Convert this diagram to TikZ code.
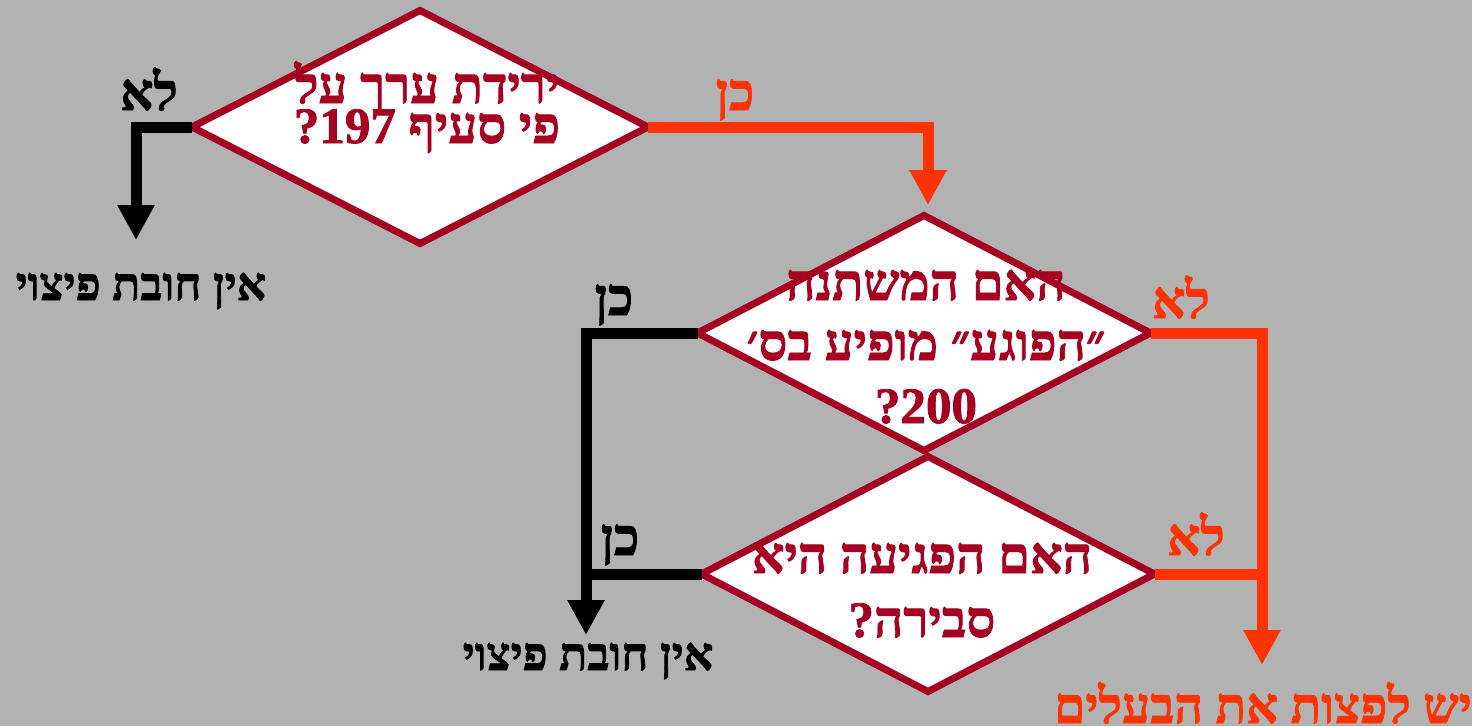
\documentclass[tikz,border=0pt]{standalone}
\usepackage{fontspec}
\usetikzlibrary{shapes.geometric,arrows.meta}
\TeXXeTstate=1
\newfontfamily\heb[Script=Hebrew, BoldFeatures={FakeBold=1.6}]{Liberation Serif}
\definecolor{bg}{HTML}{B2B2B2}
\definecolor{dred}{HTML}{A50021}
\definecolor{orng}{HTML}{FF3300}
\begin{document}
\begin{tikzpicture}[x=1pt,y=-1pt,
  decision/.style={diamond, draw=dred, fill=white, line width=7pt, outer sep=0pt, inner sep=0pt},
  dtext/.style={anchor=base, inner sep=0pt, text=dred, font=\heb\bfseries\fontsize{51}{51}\selectfont},
  lbl/.style={anchor=base, inner sep=0pt, font=\heb\bfseries\fontsize{52}{52}\selectfont},
  outtext/.style={anchor=base, inner sep=0pt, font=\heb\bfseries\fontsize{46}{46}\selectfont},
  bigout/.style={anchor=base, inner sep=0pt, font=\heb\bfseries\fontsize{50}{50}\selectfont},
  blkline/.style={draw=black, line width=11pt, -{Triangle[length=35pt,width=35pt]}},
  blkseg/.style={draw=black, line width=11pt},
  orline/.style={draw=orng, line width=11pt, -{Triangle[length=35pt,width=35pt]}},
  orseg/.style={draw=orng, line width=11pt}]
\fill[bg] (0,0) rectangle (1472,726);
\useasboundingbox (0,0) rectangle (1472,726);

% decisions
\node[decision, minimum width=456pt, minimum height=233pt] (d1) at (420,127) {};
\node[decision, minimum width=453pt, minimum height=235pt] (d2) at (924,333) {};
\node[decision, minimum width=453pt, minimum height=235pt] (d3) at (928,574) {};

% free ends
\coordinate (e1) at (136,240);
\coordinate (e2) at (928,205);
\coordinate (e3) at (586,635);
\coordinate (j3) at (586,574);
\coordinate (e4) at (1262,665);
\coordinate (j4) at (1262,574);

% connectors
\draw[blkline] (d1.west) -| (e1);
\draw[orline] (d1.east) -| (e2);
\draw[blkline] (d2.west) -| (e3);
\draw[blkseg] (d3.west) -- (j3);
\draw[orline] (d2.east) -| (e4);
\draw[orseg] (d3.east) -- (j4);

% decision texts
\node[dtext] (t1a) at (427,103) {\beginR ירידת ערך על\endR};
\node[dtext] (t1b) at (427,143) {\beginR פי סעיף \beginL197\endL?\endR};
\node[dtext] (t2a) at (926,300) {\beginR האם המשתנה\endR};
\node[dtext] (t2b) at (926,360) {\beginR ״הפוגע״ מופיע בס׳\endR};
\node[dtext] (t2c) at (926,423) {\beginR\beginL200\endL?\endR};
\node[dtext] (t3a) at (922,573) {\beginR האם הפגיעה היא\endR};
\node[dtext] (t3b) at (922,637) {\beginR סבירה?\endR};

% branch labels
\node[lbl, text=black] (l1) at (149,110) {\beginR לא\endR};
\node[lbl, text=orng] (l2) at (735,110) {\beginR כן\endR};
\node[lbl, text=black] (l3) at (614,315) {\beginR כן\endR};
\node[lbl, text=black] (l4) at (620,555) {\beginR כן\endR};
\node[lbl, text=orng] (l5) at (1181,318) {\beginR לא\endR};
\node[lbl, text=orng] (l6) at (1196,555) {\beginR לא\endR};

% outcomes
\node[outtext, text=black] (o1) at (141,300) {\beginR אין חובת פיצוי\endR};
\node[outtext, text=black] (o2) at (588,670) {\beginR אין חובת פיצוי\endR};
\node[bigout, text=orng] (o3) at (1263,723) {\beginR יש לפצות את הבעלים\endR};
\end{tikzpicture}
\end{document}
